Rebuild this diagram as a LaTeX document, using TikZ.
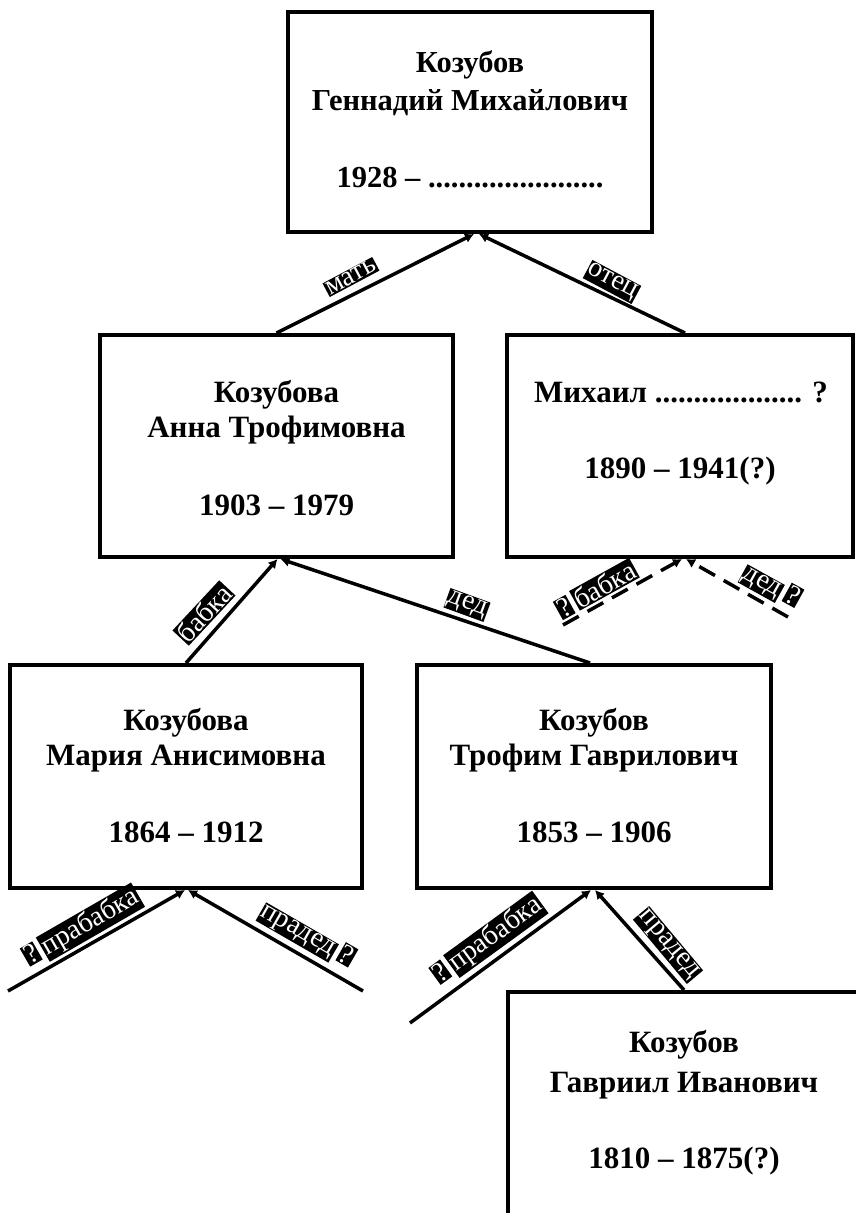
\documentclass[tikz,border=0pt]{standalone}
\usepackage{fontspec}
\setmainfont{Liberation Serif}
\usetikzlibrary{arrows.meta}
\newcommand{\hl}[1]{{\setlength{\fboxsep}{1pt}\colorbox{black}{\textcolor{white}{#1}}}}
\begin{document}
\begin{tikzpicture}[x=1pt,y=-1pt,
  pbox/.style={draw, line width=4pt, inner sep=0pt},
  ptext/.style={anchor=base, inner sep=0pt, font=\fontsize{31}{36}\selectfont\bfseries},
  ptop/.style={ptext, font=\fontsize{30.5}{36}\selectfont\bfseries},
  rel/.style={line width=3.5pt, -{Latex[length=9pt,width=10pt]}},
  relq/.style={rel, dash pattern=on 18pt off 10pt},
  lab/.style={inner sep=0pt, font=\fontsize{28}{30}\selectfont}]
\useasboundingbox (0,0) rectangle (856,1213);
\clip (0,0) rectangle (856,1213);
% boxes
\node[pbox, minimum width=364pt, minimum height=220pt] (gena)  at (470,122)   {};
\node[pbox, minimum width=353pt, minimum height=222pt] (anna)  at (276.5,446) {};
\node[pbox, minimum width=346pt, minimum height=222pt] (mikh)  at (680,446)   {};
\node[pbox, minimum width=352pt, minimum height=223pt] (maria) at (186,776.5) {};
\node[pbox, minimum width=354pt, minimum height=223pt] (trof)  at (594,776.5) {};
\node[pbox, minimum width=352pt, minimum height=248pt] (gavr)  at (684,1116)  {};
% texts
\node[ptop] (gena1) at (470,72)  {Козубов};
\node[ptop] (gena2) at (470,110) {Геннадий Михайлович};
\node[ptop] (gena3) at (470,187) {1928 – .......................};
\node[ptext] (anna1) at (276.5,402) {Козубова};
\node[ptext] (anna2) at (276.5,437) {Анна Трофимовна};
\node[ptext] (anna3) at (276.5,515) {1903 – 1979};
\node[ptext] (mikh1) at (681,402) {Михаил ................... ?};
\node[ptext] (mikh2) at (680,478) {1890 – 1941(?)};
\node[ptext] (maria1) at (186,730) {Козубова};
\node[ptext] (maria2) at (186,765) {Мария Анисимовна};
\node[ptext] (maria3) at (186,842) {1864 – 1912};
\node[ptext] (trof1) at (594,730) {Козубов};
\node[ptext] (trof2) at (594,765) {Трофим Гаврилович};
\node[ptext] (trof3) at (594,842) {1853 – 1906};
\node[ptext] (gavr1) at (684,1052) {Козубов};
\node[ptext] (gavr2) at (684,1092) {Гавриил Иванович};
\node[ptext] (gavr3) at (684,1168) {1810 – 1875(?)};
% free ends
\coordinate (q1) at (563,625);
\coordinate (q2) at (788,617);
\coordinate (m1) at (8,991);
\coordinate (m2) at (363,991);
\coordinate (t1) at (410,1023);
% connectors
\draw[rel] (anna.north) -- ([xshift=4pt]gena.south);
\draw[rel] ([xshift=5pt]mikh.north) -- ([xshift=9pt]gena.south);
\draw[rel] (maria.north) -- ([xshift=1pt]anna.south);
\draw[rel] ([xshift=-4pt]trof.north) -- ([xshift=4pt]anna.south);
\draw[relq] (q1) -- ([xshift=2pt]mikh.south);
\draw[relq] (q2) -- ([xshift=6pt]mikh.south);
\draw[rel] (m1) -- ([xshift=-1pt]maria.south);
\draw[rel] (m2) -- ([xshift=2pt]maria.south);
\draw[rel] (t1) -- ([xshift=-3pt]trof.south);
\draw[rel] (gavr.north) -- ([xshift=1pt]trof.south);
% labels
\node[lab, rotate=28]  (l1)  at (351,277) {\hl{мать}};
\node[lab, rotate=-28] (l2)  at (612,282) {\hl{отец}};
\node[lab, rotate=47]  (l3)  at (204,613) {\hl{бабка}};
\node[lab, rotate=-20] (l4)  at (467,605) {\hl{дед}};
\node[lab, rotate=29]  (l5)  at (596,589) {\hl{?}\hspace{5pt}\hl{бабка}};
\node[lab, rotate=-29] (l6)  at (771,586) {\hl{дед}\hspace{5pt}\hl{?}};
\node[lab, rotate=30]  (l7)  at (82,927)  {\hl{?}\hspace{5pt}\hl{прабабка}};
\node[lab, rotate=-30] (l8)  at (307,935) {\hl{прадед}\hspace{5pt}\hl{?}};
\node[lab, rotate=36]  (l9)  at (488,940) {\hl{?}\hspace{5pt}\hl{прабабка}};
\node[lab, rotate=-50] (l10) at (668,945) {\hl{прадед}};
\end{tikzpicture}
\end{document}
